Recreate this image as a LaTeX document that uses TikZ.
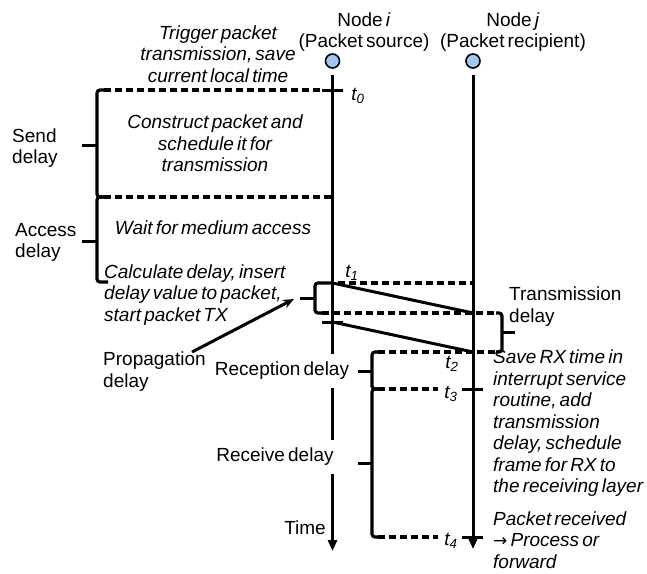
\documentclass[tikz,border=0pt]{standalone}
\usepackage{fontspec}
\setmainfont{Liberation Sans}[WordSpace=0.6]
\usetikzlibrary{arrows.meta}
\definecolor{nodeblue}{RGB}{160,200,240}
\begin{document}
\begin{tikzpicture}[x=1pt,y=-1pt,
  lbl/.style={font=\fontsize{19}{21.5}\selectfont, inner sep=0pt},
  itl/.style={font=\fontsize{19}{21.5}\selectfont\itshape, inner sep=0pt},
  ln/.style={line width=3pt},
  dsh/.style={line width=3.4pt, dash pattern=on 7pt off 4pt},
  bracestyle/.style={line width=3.2pt, rounded corners=3pt},
  tl/.style={line width=3pt, -{Triangle[length=11pt,width=9pt]}},
  pnode/.style={circle, draw, fill=nodeblue, line width=1.6pt, minimum size=14pt, inner sep=0pt}]
\useasboundingbox (0,0) rectangle (647,573);

% nodes and timelines
\node[pnode] (ci) at (332.5,61) {};
\node[pnode] (cj) at (473,61) {};
\coordinate (ia) at (332.5,75);
\coordinate (iz) at (332.5,551);
\coordinate (ja) at (473,75);
\coordinate (jz) at (473,549);
\draw[tl] (ia) -- (iz);
\draw[tl] (ja) -- (jz);

\node[lbl, align=center] (ni) at (364,32) {Node \textit{i}\\(Packet source)};
\node[lbl, align=center] (nj) at (513,32) {Node \textit{j}\\(Packet recipient)};
\node[itl, align=center] (trig) at (218,54) {Trigger packet\\transmission, save\\current local time};

% send delay
\draw[bracestyle] (104,90) -- (97,90) -- (97,197) -- (104,197);
\draw[ln] (97,145) -- (82,145);
\draw[dsh] (104,90) -- (322,90);
\draw[ln] (322,90) -- (343,90);
\node[itl] (t0) at (358,96) {t\textsubscript{0}};
\node[lbl, align=left, anchor=west] (send) at (12,148) {Send\\delay};
\node[itl, align=center] (constr) at (215,143.5) {Construct packet and\\schedule it for\\transmission};

% access delay
\draw[dsh] (104,197) -- (332,197);
\draw[bracestyle] (104,197) -- (97,197) -- (97,282) -- (108,282);
\draw[ln] (97,241) -- (82,241);
\node[lbl, align=left, anchor=west] (access) at (15,242.5) {Access\\delay};
\node[itl] (wait) at (213,228) {Wait for medium access};
\node[itl, align=left, anchor=west] (calc) at (104,295) {Calculate delay, insert\\delay value to packet,\\start packet TX};

% packet transmission
\draw[bracestyle] (332,283) -- (315,283) -- (315,313) -- (322,313);
\draw[ln] (315,298) -- (300,298);
\draw[dsh] (338,283) -- (473,283);
\node[itl] (t1) at (352,273) {t\textsubscript{1}};
\draw[dsh] (322,313) -- (496,313);
\draw[bracestyle] (496,313) -- (502,313) -- (502,352) -- (496,352);
\draw[ln] (502,332) -- (515,332);
\draw[ln] (332.5,283) -- (473,313);
\draw[ln] (322,322) -- (343,322);
\draw[ln] (332.5,322) -- (473,352);
\node[lbl, align=left, anchor=west] (trans) at (509,306.5) {Transmission\\delay};

% propagation
\node[lbl, align=left, anchor=west] (prop) at (103,371.5) {Propagation\\delay};
\draw[line width=3pt, -{Stealth[length=11pt,width=9pt]}] (192,352) -- (294,299);

% reception
\draw[dsh] (378,352) -- (496,352);
\draw[bracestyle] (378,352) -- (372,352) -- (372,389) -- (378,389);
\draw[ln] (372,371) -- (358,371);
\node[itl] (t2) at (452,364) {t\textsubscript{2}};
\draw[bracestyle] (378,389) -- (372,389) -- (372,537) -- (378,537);
\draw[ln] (372,463) -- (358,463);
\draw[dsh] (378,389) -- (438,389);
\draw[ln] (462,389) -- (483,389);
\node[itl] (t3) at (451,394) {t\textsubscript{3}};
\draw[dsh] (378,537) -- (438,537);
\draw[ln] (462,537) -- (483,537);
\node[itl] (t4) at (451,541) {t\textsubscript{4}};

\node[lbl, fill=white, minimum height=34pt] (recp) at (282,371) {Reception delay};
\node[lbl, fill=white, minimum height=34pt] (recv) at (275,457) {Receive delay};
\node[lbl, anchor=east] (time) at (326,528) {Time};

\node[itl, align=left, anchor=west] (save) at (493,423.5) {Save RX time in\\interrupt service\\routine, add\\transmission\\delay, schedule\\frame for RX to\\the receiving layer};
\node[itl, align=left, anchor=west] (recd) at (493,540) {Packet received\\{\fontspec{DejaVu Sans}\fontsize{17}{21}\selectfont →} Process or\\forward};
\end{tikzpicture}
\end{document}
